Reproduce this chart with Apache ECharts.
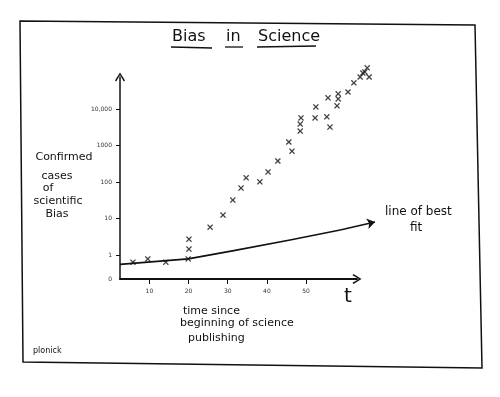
<!DOCTYPE html>
<html>
<head>
<meta charset="utf-8">
<title>Bias in Science</title>
<script src="https://cdn.jsdelivr.net/npm/echarts@6/dist/echarts.min.js"></script>
<style>
  html, body { margin: 0; padding: 0; background: #fff; }
  #chart { width: 500px; height: 397px; }
</style>
</head>
<body>
<div id="chart"></div>
<script>
// time since beginning of science publishing (x) for each marked case
var caseTime = [5.8, 9.6, 14.2, 19.9, 20.1, 20.1, 25.5, 28.8, 31.3, 33.4, 34.7, 38.2,
  40.3, 42.8, 45.6, 46.4, 48.5, 48.5, 48.7, 52.3, 52.5, 55.3, 56.1, 55.6, 57.9, 58.2,
  58.2, 60.7, 62.2, 63.8, 64.5, 65.6, 65.0, 66.1]
// confirmed cases, in decades (log10 of the count, 0 = 1 case)
var caseDecade = [-0.19, -0.10, -0.19, -0.10, 0.17, 0.44, 0.77, 1.10, 1.51, 1.84, 2.12, 2.01,
  2.28, 2.58, 3.10, 2.85, 3.40, 3.59, 3.76, 3.76, 4.06, 3.79, 3.51, 4.31, 4.09, 4.28,
  4.42, 4.47, 4.72, 4.88, 4.99, 5.13, 5.02, 4.88]
// the hand-drawn "line of best fit"
var fitTime = [2.5, 19.9, 31.2, 45.9, 58.7, 67.6]
var fitDecade = [-0.25, -0.10, 0.12, 0.42, 0.69, 0.91]
// tick labels
var xTicks = [10, 20, 30, 40, 50]
var yTickPos = [-0.65, 0, 1, 2, 3, 4]
var yTickLabels = ['0', '1', '10', '100', '1000', '10,000']

var hand = '"DejaVu Sans", sans-serif'
var chevron = 'path://M5,0 L10,8 L8.8,9 L5,2.6 L1.2,9 L0,8 Z'
var cross = 'path://M0,1.5 L1.5,0 L5,3.5 L8.5,0 L10,1.5 L6.5,5 L10,8.5 L8.5,10 L5,6.5 L1.5,10 L0,8.5 L3.5,5 Z'

var points = caseTime.map(function (t, i) { return [t, caseDecade[i]] })
var fitLine = fitTime.map(function (t, i) { return [t, fitDecade[i]] })
var n = fitLine.length

function txt(text, x, y, size, align) {
  return {
    type: 'text',
    x: x,
    y: y,
    style: {
      text: text,
      fill: '#111',
      font: size + 'px ' + hand,
      textAlign: align || 'left',
      textVerticalAlign: 'middle'
    }
  }
}
function seg(x1, y1, x2, y2, w) {
  return {
    type: 'line',
    shape: { x1: x1, y1: y1, x2: x2, y2: y2 },
    style: { stroke: '#111', lineWidth: w || 1.3 }
  }
}

const myChart = echarts.init(document.getElementById('chart'))
myChart.setOption({
  animation: false,
  backgroundColor: '#fff',
  grid: { left: 120, right: 143, top: 77, bottom: 118 },
  xAxis: {
    type: 'value',
    min: 2.5,
    max: 63,
    splitLine: { show: false },
    axisLine: {
      onZero: false,
      lineStyle: { color: '#111', width: 2 },
      symbol: ['none', chevron],
      symbolSize: [11, 9]
    },
    axisTick: { customValues: xTicks, length: 5, lineStyle: { color: '#111' } },
    axisLabel: { customValues: xTicks, fontSize: 6, color: '#333', margin: 9, fontFamily: hand }
  },
  yAxis: {
    type: 'value',
    min: -0.65,
    max: 4.88,
    splitLine: { show: false },
    axisLine: {
      onZero: false,
      lineStyle: { color: '#111', width: 1.5 },
      symbol: ['none', chevron],
      symbolSize: [11, 9]
    },
    axisTick: { customValues: [0, 1, 2, 3, 4], length: 4, lineStyle: { color: '#111' } },
    axisLabel: {
      customValues: yTickPos,
      fontSize: 6,
      color: '#333',
      margin: 8,
      fontFamily: hand,
      formatter: function (v) {
        var i = yTickPos.indexOf(v)
        return i >= 0 ? yTickLabels[i] : ''
      }
    }
  },
  series: [
    {
      type: 'scatter',
      data: points,
      clip: false,
      symbol: cross,
      symbolSize: 6,
      itemStyle: { color: '#111' }
    },
    {
      type: 'lines',
      coordinateSystem: 'cartesian2d',
      polyline: true,
      clip: false,
      symbol: 'none',
      lineStyle: { color: '#111', width: 1.6, opacity: 1 },
      data: [{ coords: fitLine.slice(0, n - 1) }]
    },
    {
      // last stretch with the arrow head
      type: 'lines',
      coordinateSystem: 'cartesian2d',
      clip: false,
      symbol: ['none', 'arrow'],
      symbolSize: 8,
      lineStyle: { color: '#111', width: 1.6, opacity: 1, curveness: 0 },
      data: [{ coords: [fitLine[n - 2], fitLine[n - 1]] }]
    }
  ],
  graphic: [
    // panel border
    {
      type: 'polygon',
      shape: { points: [[20, 21], [475, 25], [482, 368], [23, 362]] },
      style: { stroke: '#111', fill: 'none', lineWidth: 1.5 }
    },
    // title
    txt('Bias', 172, 37, 16),
    txt('in', 226, 37, 16),
    txt('Science', 258, 37, 16),
    seg(171, 47, 212, 48),
    seg(225, 47, 243, 47),
    seg(257, 47, 316, 46),
    // y axis title
    txt('Confirmed', 64, 157, 11, 'center'),
    txt('cases', 57, 176, 11, 'center'),
    txt('of', 48, 188, 11, 'center'),
    txt('scientific', 58, 201, 11, 'center'),
    txt('Bias', 57, 214, 11, 'center'),
    // x axis title
    txt('time since', 183, 311, 11),
    txt('beginning of science', 180, 323, 11),
    txt('publishing', 188, 338, 11),
    txt('t', 344, 297, 20),
    // annotation
    txt('line of best', 385, 212, 12),
    txt('fit', 410, 228, 12),
    // signature
    txt('plonick', 33, 351, 8)
  ]
})
</script>
</body>
</html>
